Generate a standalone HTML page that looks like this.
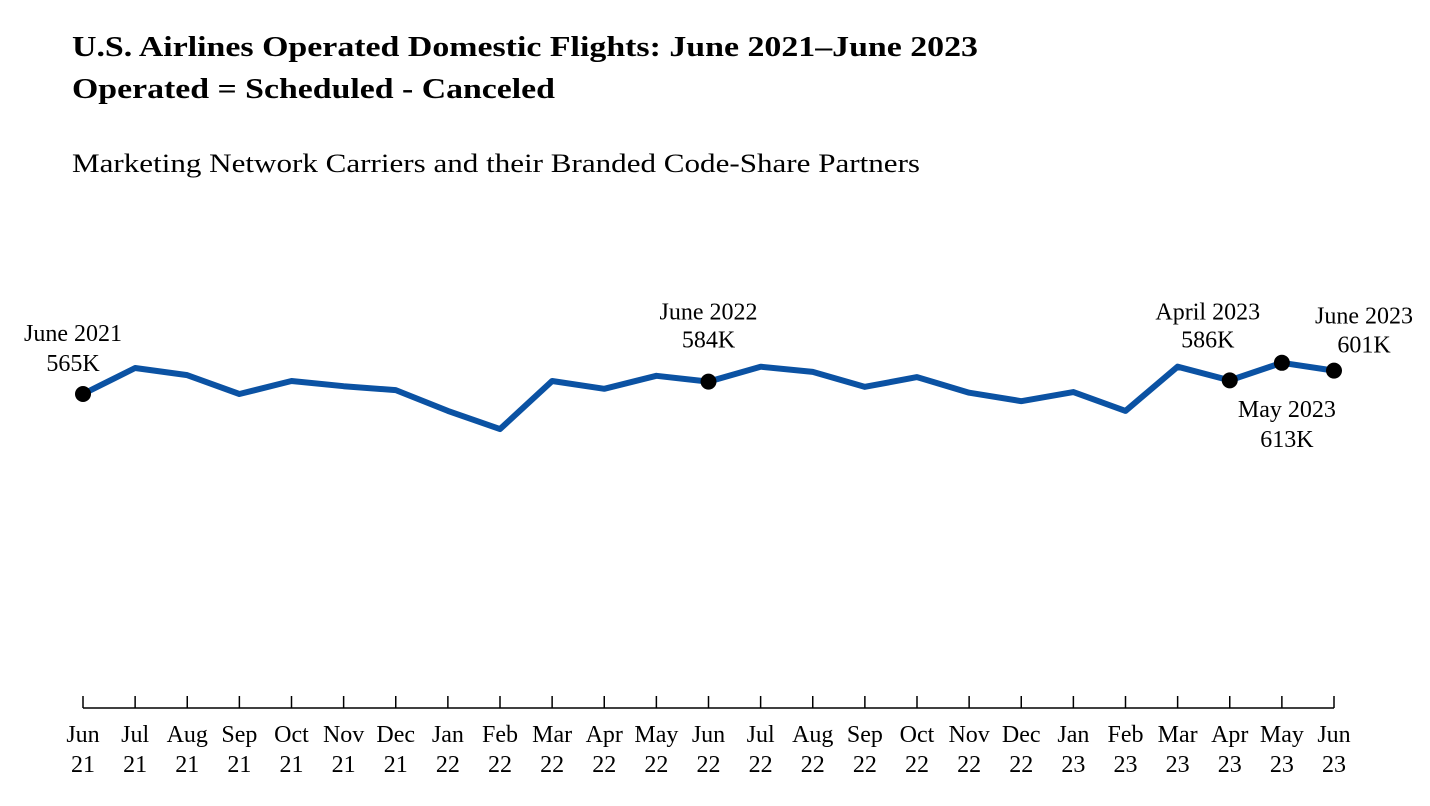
<!DOCTYPE html>
<html><head><meta charset="utf-8"><style>
body{margin:0;background:#fff;}
svg{display:block;font-family:"Liberation Serif",serif;}
</style></head><body>
<svg id="chart" width="1430" height="806">
<text x="72" y="56" font-size="29" font-weight="bold" textLength="906" lengthAdjust="spacingAndGlyphs">U.S. Airlines Operated Domestic Flights: June 2021–June 2023</text>
<text x="72" y="98" font-size="29" font-weight="bold" textLength="483" lengthAdjust="spacingAndGlyphs">Operated = Scheduled - Canceled</text>
<text x="72" y="172" font-size="26" textLength="848" lengthAdjust="spacingAndGlyphs">Marketing Network Carriers and their Branded Code-Share Partners</text>
<g id="axis"></g><g id="series"></g><g id="annot"></g>
</svg>
<script>
const months=["Jun","Jul","Aug","Sep","Oct","Nov","Dec","Jan","Feb","Mar","Apr","May","Jun","Jul","Aug","Sep","Oct","Nov","Dec","Jan","Feb","Mar","Apr","May","Jun"];
const years=["21","21","21","21","21","21","21","22","22","22","22","22","22","22","22","22","22","22","22","23","23","23","23","23","23"];
const values=[565,605,594,565,585,577,571,539,511,585,573,593,584,607,599,576,591,567,554,568,539,607,586,613,601];
const markers=[0,12,22,23,24];
const markerLabels=[["June 2021","565K"],["June 2022","584K"],["April 2023","586K"],["May 2023","613K"],["June 2023","601K"]];
const NS="http://www.w3.org/2000/svg";
const x=i=>83+i*(1334-83)/(months.length-1);
const y=v=>394-(v-565)*0.65;
function mk(t,a,p){const e=document.createElementNS(NS,t);for(const k in a)e.setAttribute(k,a[k]);p.appendChild(e);return e;}
const ax=document.getElementById('axis'),se=document.getElementById('series'),an=document.getElementById('annot');
const al=mk('line',{x1:x(0),x2:x(months.length-1),y1:708,y2:708,stroke:'#000','stroke-width':1.5},ax);


months.forEach((m,i)=>{
 const t=mk('line',{x1:x(i),x2:x(i),y1:696,y2:708,stroke:'#000','stroke-width':1.5},ax);
 
 
 const l=mk('text',{x:x(i),y:742,'font-size':24,'text-anchor':'middle'},ax);l.textContent=m;
 
 
 const l2=mk('text',{x:x(i),y:772,'font-size':24,'text-anchor':'middle'},ax);l2.textContent=years[i];
 
 
});
const pl=mk('polyline',{points:values.map((v,i)=>x(i)+','+y(v)).join(' '),fill:'none',stroke:'#0b52a3','stroke-width':6,'stroke-linejoin':'round'},se);


const offs=[[-10,-53,-23],[0,-62,-34],[-22,-61,-33],[5,54,84],[30,-47,-18]];
markers.forEach((i,k)=>{
 const c=mk('circle',{cx:x(i),cy:y(values[i]),r:8,fill:'#000'},se);
 
 
 const o=offs[k];
 const a=mk('text',{x:x(i)+o[0],y:y(values[i])+o[1],'font-size':24,'text-anchor':'middle'},an);a.textContent=markerLabels[k][0];
 
 
 const b=mk('text',{x:x(i)+o[0],y:y(values[i])+o[2],'font-size':24,'text-anchor':'middle'},an);b.textContent=markerLabels[k][1];
 
 
});
</script>
</body></html>
